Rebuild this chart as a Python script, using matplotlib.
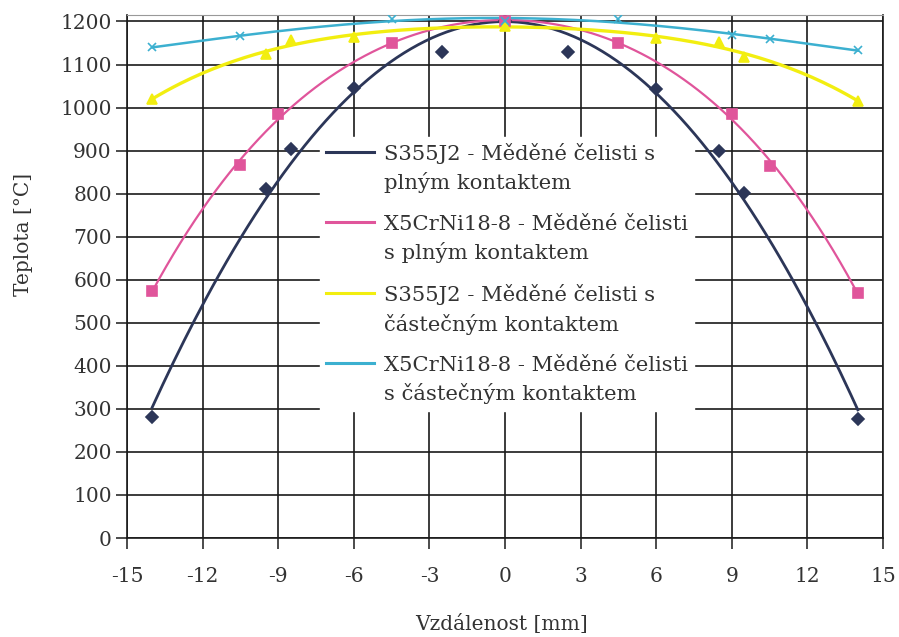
import numpy as np
import matplotlib
matplotlib.use("Agg")
import matplotlib.pyplot as plt
from matplotlib.legend_handler import HandlerLine2D

# data
x_s355_plny = [-14, -9.5, -8.5, -6, -2.5, 0, 2.5, 6, 8.5, 9.5, 14]
y_s355_plny = [280, 810, 904, 1046, 1130, 1200, 1128, 1044, 900, 802, 277]

x_x5_plny = [-14, -10.5, -9, -4.5, 0, 4.5, 9, 10.5, 14]
y_x5_plny = [575, 866, 986, 1150, 1200, 1149, 986, 865, 569]

x_s355_cast = [-14, -9.5, -8.5, -6, 0, 6, 8.5, 9.5, 14]
y_s355_cast = [1020, 1124, 1156, 1163, 1190, 1161, 1152, 1117, 1016]

x_x5_cast = [-14, -10.5, -4.5, 0, 4.5, 9, 10.5, 14]
y_x5_cast = [1140, 1166, 1205, 1200, 1205, 1168, 1160, 1133]

labels = ["S355J2 - Měděné čelisti s\nplným kontaktem",
          "X5CrNi18-8 - Měděné čelisti\ns plným kontaktem",
          "S355J2 - Měděné čelisti s\nčástečným kontaktem",
          "X5CrNi18-8 - Měděné čelisti\ns částečným kontaktem"]

x_ticks = [-15, -12, -9, -6, -3, 0, 3, 6, 9, 12, 15]
y_ticks = [0, 100, 200, 300, 400, 500, 600, 700, 800, 900, 1000, 1100, 1200]

plt.rcParams['font.family'] = ['DejaVu Serif']
plt.rcParams['axes.unicode_minus'] = False
txt = '#333333'


class UpHandler(HandlerLine2D):
    # put the legend line next to the first text line, not the middle
    def create_artists(self, legend, orig_handle, xdescent, ydescent,
                       width, height, fontsize, trans):
        arts = super().create_artists(legend, orig_handle, xdescent, ydescent,
                                      width, height, fontsize, trans)
        for a in arts:
            a.set_ydata(np.asarray(a.get_ydata()) + 12)
        return arts


fig = plt.figure(figsize=(8.99, 6.37), dpi=100)
ax = fig.add_axes([0.1413, 0.1554, 0.8409, 0.8210])

series = [
    (x_s355_plny, y_s355_plny, '#2c3658', 'D', 6, 2.0, 2),
    (x_x5_plny, y_x5_plny, '#e0559b', 's', 6.5, 1.6, 4),
    (x_s355_cast, y_s355_cast, '#f2ee10', '^', 7.5, 2.4, 4),
    (x_x5_cast, y_x5_cast, '#3cb0d0', 'x', 6, 1.8, 4),
]

xs = np.linspace(-14, 14, 200)
for (xd, yd, col, mk, ms, lw, order), lab in zip(series, labels):
    # polynomial trendline (like the Excel one)
    p = np.polyfit(xd, yd, order)
    ax.plot(xs, np.polyval(p, xs), color=col, lw=lw, label=lab, zorder=3)
    ax.plot(xd, yd, linestyle='none', marker=mk, ms=ms, color=col,
            mec=col, mew=1.2, zorder=4)

ax.set_xlim(-15, 15)
ax.set_ylim(0, 1215)
ax.set_xticks(x_ticks)
ax.set_yticks(y_ticks)
ax.grid(True, color='#1a1a1a', lw=1.2)
ax.set_axisbelow(True)

for s in ['left', 'bottom', 'right']:
    ax.spines[s].set_color('#1a1a1a')
    ax.spines[s].set_linewidth(1.2)
ax.spines['top'].set_color('#999999')
ax.spines['top'].set_linewidth(0.8)

ax.tick_params(axis='y', length=8, width=1.1, pad=3, labelsize=14.5, labelcolor=txt, color='#1a1a1a')
ax.tick_params(axis='x', length=8, width=1.1, pad=13, labelsize=14.5, labelcolor=txt, color='#1a1a1a')

ax.set_xlabel('Vzdálenost [mm]', fontsize=14.5, color=txt)
ax.set_ylabel('Teplota [°C]', fontsize=14.5, color=txt)
ax.xaxis.set_label_coords(0.495, -0.145)
ax.yaxis.set_label_coords(-0.125, 0.58)

leg = ax.legend(loc='upper left', bbox_to_anchor=(309 / 899, 1 - 126 / 637),
                bbox_transform=fig.transFigure, frameon=True, fancybox=False,
                framealpha=1, edgecolor='white', fontsize=15.2,
                handlelength=2.3, handletextpad=0.45, labelspacing=1.0,
                borderpad=0.3, handler_map={ax.lines[0].__class__: UpHandler()})
for t in leg.get_texts():
    t.set_color(txt)
    t.set_linespacing(1.5)
for h in leg.get_lines():
    h.set_linewidth(2.2)
leg.set_zorder(5)

fig.savefig('out.png', dpi=100)
